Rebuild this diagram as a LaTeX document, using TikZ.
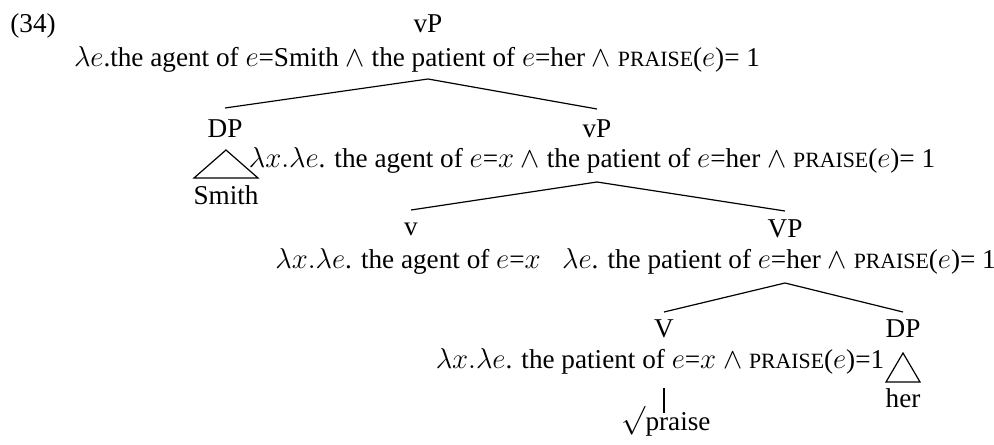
\documentclass[tikz,border=0pt]{standalone}
\usepackage{fontspec}
\setmainfont{Liberation Serif}
\usetikzlibrary{calc}
\newcommand\smc[1]{{\fontsize{10.9pt}{11pt}\selectfont #1}}
\begin{document}
\begin{tikzpicture}[x=0.5pt,y=-0.5pt,
  every node/.style={inner sep=0pt,font=\fontsize{13.6pt}{16pt}\selectfont},
  lab/.style={anchor=base},
  edge/.style={line width=0.6pt}]
\useasboundingbox (0,0) rectangle (994,444);
% labels
\node[anchor=base west] (num) at (10,33) {(34)};
\node[lab] (vPa) at (428,33) {vP};
\node[lab] (semA) at (417,67) {$\lambda e$.the agent of $e$=Smith $\wedge$ the patient of $e$=her $\wedge$ \smc{PRAISE}($e$)= 1};
\node[lab] (DPa) at (225,137) {DP};
\node[lab] (Smith) at (226,204) {Smith};
\node[lab] (vPb) at (597,137) {vP};
\node[lab] (semB) at (592,167) {$\lambda x.\lambda e$. the agent of $e$=$x$ $\wedge$ the patient of $e$=her $\wedge$ \smc{PRAISE}($e$)= 1};
\node[lab] (vv) at (411,235) {v};
\node[lab] (semC) at (408,268) {$\lambda x.\lambda e$. the agent of $e$=$x$};
\node[lab] (VP) at (785,237) {VP};
\node[lab] (semD) at (779,268) {$\lambda e$. the patient of $e$=her $\wedge$ \smc{PRAISE}($e$)= 1};
\node[lab] (VV) at (664,337) {V};
\node[lab] (semE) at (660,368) {$\lambda x.\lambda e$. the patient of $e$=$x$ $\wedge$ \smc{PRAISE}($e$)=1};
\node[lab] (DPb) at (903,337) {DP};
\node[lab] (her) at (903,407) {her};
\node[lab] (root) at (666,430) {\raisebox{1pt}{$\surd$}praise};
% branches
\draw[edge] ($(DPa.base)+(0,-29)$) -- ($(vPa.base |- semA.base)+(0,12)$) -- ($(vPb.base)+(0,-28)$);
\draw[edge] ($(vv.base)+(0,-25)$) -- ($(vPb.base |- semB.base)+(0,15)$) -- ($(VP.base)+(0,-26)$);
\draw[edge] ($(VV.base)+(0,-25)$) -- ($(VP.base |- semD.base)+(0,15)$) -- ($(DPb.base)+(0,-25)$);
\draw[edge] ($(VV.base)+(0,51)$) -- ($(VV.base)+(0,76)$);
% triangles
\draw[edge] ($(DPa.base)+(1,13)$) -- ($(Smith.base)+(-32,-26)$) -- ($(Smith.base)+(32,-26)$) -- cycle;
\draw[edge] ($(DPb.base)+(0,16)$) -- ($(her.base)+(-17,-25)$) -- ($(her.base)+(17,-25)$) -- cycle;
\end{tikzpicture}
\end{document}
